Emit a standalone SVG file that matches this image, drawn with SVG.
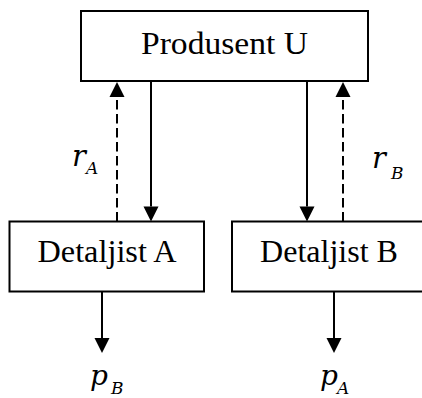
<svg xmlns="http://www.w3.org/2000/svg" width="422" height="398" viewBox="0 0 422 398">
  <style>
    .box { fill: #fff; stroke: #000; stroke-width: 2; }
    .name { font-family: "Liberation Serif", "Times New Roman", serif; font-size: 32px; fill: #000; text-anchor: middle; }
    .var { font-family: "DejaVu Serif", "Liberation Serif", serif; font-style: italic; fill: #000; }
    .flow { stroke: #000; stroke-width: 2; fill: none; marker-end: url(#head); }
    .dash { stroke-dasharray: 9.5 4.5; }
  </style>
  <defs>
    <marker id="head" markerUnits="userSpaceOnUse" markerWidth="16" markerHeight="16" refX="0" refY="7.5" orient="auto" overflow="visible">
      <path d="M0,0 L15,7.5 L0,15 Z" fill="#000"/>
    </marker>
  </defs>

  <rect width="422" height="398" fill="#fff"/>

  <g id="produsent-u">
    <rect class="box" x="81" y="11" width="287" height="70"/>
    <text class="name" x="224.5" y="53.5" textLength="167" lengthAdjust="spacingAndGlyphs">Produsent U</text>
  </g>

  <g id="detaljist-a">
    <rect class="box" x="9.5" y="221.5" width="194.5" height="70"/>
    <text class="name" x="107" y="261.5" textLength="139" lengthAdjust="spacingAndGlyphs">Detaljist A</text>
  </g>

  <g id="detaljist-b">
    <rect class="box" x="232" y="221.5" width="196" height="70"/>
    <text class="name" x="329" y="261.5" textLength="138" lengthAdjust="spacingAndGlyphs">Detaljist B</text>
  </g>

  <g id="connectors">
    <!-- supply from the producer down to each retailer -->
    <line class="flow" x1="151" y1="81" x2="151" y2="206.5"/>
    <line class="flow" x1="307" y1="81" x2="307" y2="206.5"/>
    <!-- dashed feedback from retailers up to the producer -->
    <line class="flow dash" x1="117" y1="221.5" x2="117" y2="97"/>
    <line class="flow dash" x1="343" y1="221.5" x2="343" y2="97"/>
    <!-- prices out of each retailer -->
    <line class="flow" x1="102" y1="292" x2="102" y2="338"/>
    <line class="flow" x1="334" y1="292" x2="334" y2="338"/>
  </g>

  <g id="labels">
    <text class="var" x="72" y="166" font-size="29">r</text>
    <text class="var" x="86" y="174" font-size="17">A</text>
    <text class="var" x="372" y="168" font-size="29">r</text>
    <text class="var" x="391" y="179" font-size="17">B</text>
    <text class="var" x="90" y="385" font-size="28">p</text>
    <text class="var" x="111" y="394" font-size="17">B</text>
    <text class="var" x="320" y="385" font-size="28">p</text>
    <text class="var" x="337" y="394" font-size="17">A</text>
  </g>
</svg>
